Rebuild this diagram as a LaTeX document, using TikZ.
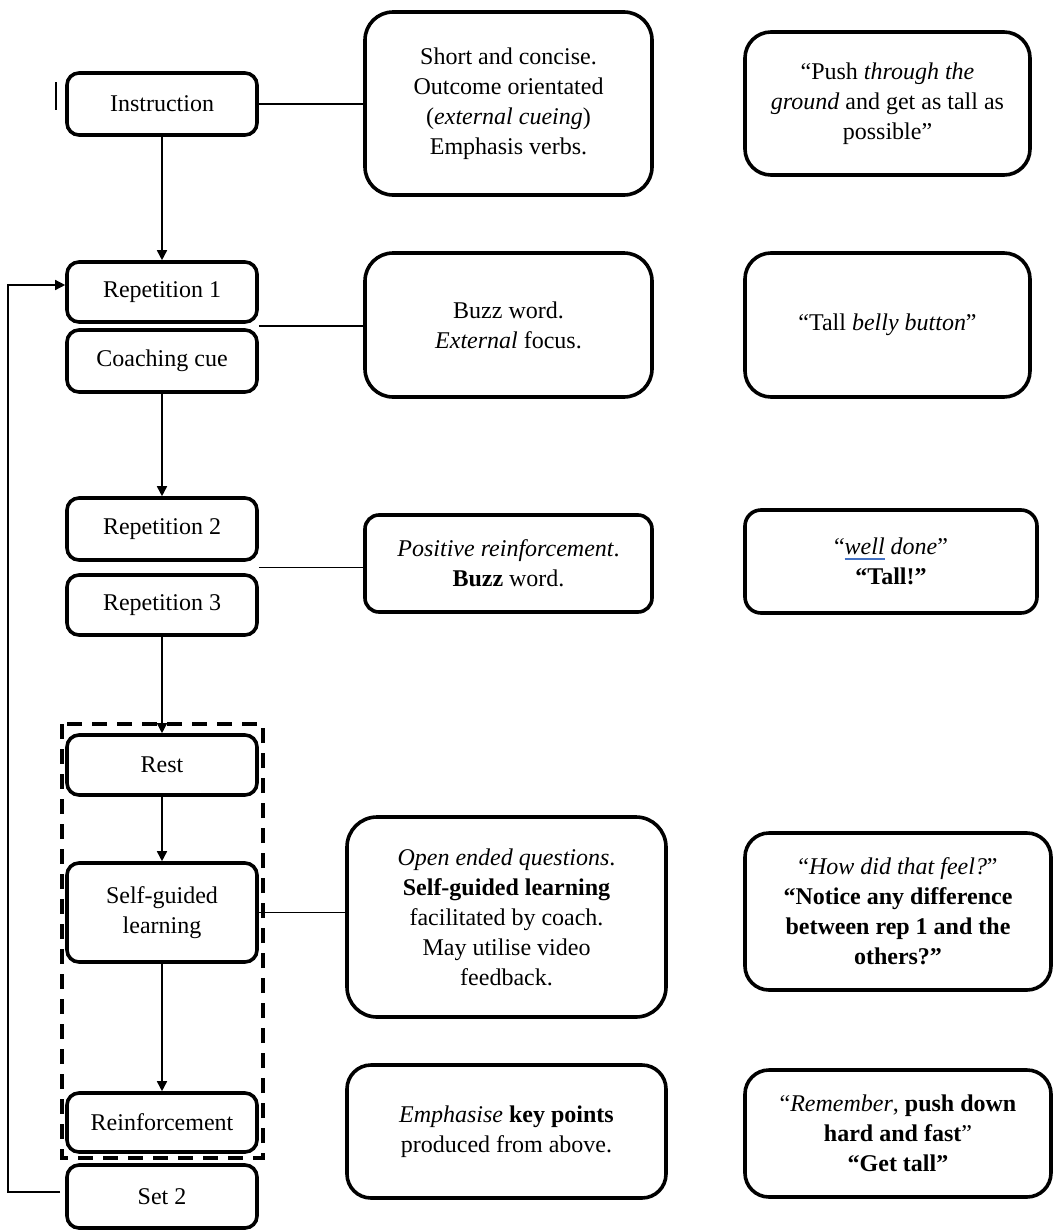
\documentclass[tikz,border=0pt]{standalone}
\usepackage{fontspec}
\setmainfont{Liberation Serif}
\usetikzlibrary{arrows.meta,calc}
\definecolor{ulblue}{RGB}{68,114,196}
% blue underline drawn beneath a word
\newcommand\blueul[1]{\sbox0{#1}\rlap{\color{ulblue}\rule[-2.6pt]{\wd0}{0.9pt}}\usebox0}
\tikzset{
  txt/.style={font=\fontsize{12}{15}\selectfont},
  stage/.style={txt, draw, line width=1.8pt, rounded corners=6pt, minimum width=95pt, align=center, inner sep=2pt},
  note/.style={txt, draw, line width=1.8pt, align=center, inner sep=2pt},
  link/.style={line width=0.8pt},
  flow/.style={line width=0.8pt, -{Triangle[length=5pt,width=5pt]}},
  grouping/.style={line width=1.8pt, dash pattern=on 7.5pt off 5pt}
}
\begin{document}
\begin{tikzpicture}[x=0.5pt, y=-0.5pt]
\useasboundingbox (0,0) rectangle (1054,1232);

% left column: session stages
\node[stage, minimum height=31pt]   (ins)   at (162,104)    {Instruction};
\node[stage, minimum height=30pt]   (rep1)  at (162,292)    {Repetition 1};
\node[stage, minimum height=31pt]   (cue)   at (162,361)    {Coaching cue};
\node[stage, minimum height=31pt]   (rep2)  at (162,529)    {Repetition 2};
\node[stage, minimum height=30pt]   (rep3)  at (162,605)    {Repetition 3};
\node[stage, minimum height=30pt]   (rest)  at (162,765)    {Rest};
\node[stage, minimum height=49.5pt] (self)  at (162,912.5)  {Self-guided\\learning};
\node[stage, minimum height=29.5pt] (reinf) at (162,1122.5) {Reinforcement};
\node[stage, minimum height=31.5pt] (set2)  at (162,1196.5) {Set 2};

% middle column: coaching approach
\node[note, rounded corners=14pt, minimum width=143.5pt, minimum height=91.5pt] (m1) at (508.5,103.5)
  {Short and concise.\\Outcome orientated\\(\textit{external cueing})\\Emphasis verbs.};
\node[note, rounded corners=14pt, minimum width=143.5pt, minimum height=72pt] (m2) at (508.5,325)
  {Buzz word.\\\textit{External} focus.};
\node[note, rounded corners=7pt, minimum width=143.5pt, minimum height=48.5pt] (m3) at (508.5,563.5)
  {\textit{Positive reinforcement}.\\\textbf{Buzz} word.};
\node[note, rounded corners=15pt, minimum width=159.5pt, minimum height=100pt] (m4) at (506.5,917)
  {\textit{Open ended questions}.\\\textbf{Self-guided learning}\\facilitated by coach.\\May utilise video\\feedback.};
\node[note, rounded corners=12pt, minimum width=159.5pt, minimum height=66.5pt] (m5) at (506.5,1131.5)
  {\textit{Emphasise} \textbf{key points}\\produced from above.};

% right column: example phrases
\node[note, rounded corners=13pt, minimum width=142.5pt, minimum height=71.5pt] (r1) at (887.5,103.5)
  {“Push \textit{through the}\\\textit{ground} and get as tall as\\possible”};
\node[note, rounded corners=13pt, minimum width=142.5pt, minimum height=72pt] (r2) at (887.5,325)
  {“Tall \textit{belly button}”};
\node[note, rounded corners=8pt, minimum width=146pt, minimum height=51.5pt] (r3) at (891,561.5)
  {“\textit{\blueul{well} done}”\\\textbf{“Tall!”}};
\node[note, rounded corners=12pt, minimum width=153pt, minimum height=78.5pt] (r4) at (898,911.5)
  {“\textit{How did that feel?}”\\\textbf{“Notice any difference}\\\textbf{between rep 1 and the}\\\textbf{others?”}};
\node[note, rounded corners=12pt, minimum width=153pt, minimum height=63.5pt] (r5) at (898,1133.5)
  {“\textit{Remember}, \textbf{push down}\\\textbf{hard and fast}”\\\textbf{“Get tall”}};

% dashed group around rest, self-guided learning and reinforcement
\draw[grouping] (62,724) rectangle (263,1158);

% small vertical mark left of the first stage
\draw[line width=0.8pt] (56,82) -- (56,110);

% links from stages to their descriptions
\coordinate (j1) at ($(rep1.south east)!0.5!(cue.north east)$);
\coordinate (j2) at ($(rep2.south east)!0.5!(rep3.north east)$);
\draw[link] (ins.east) -- (ins.east -| m1.west);
\draw[link] (j1) -- (j1 -| m2.west);
\draw[link] (j2) -- (j2 -| m3.west);
\draw[link] (self.east) -- (self.east -| m4.west);

% downward flow
\draw[flow] (ins.south) -- (rep1.north);
\draw[flow] (cue.south) -- (rep2.north);
\draw[flow] (rep3.south) -- (rest.north);
\draw[flow] (rest.south) -- (self.north);
\draw[flow] (self.south) -- (reinf.north);

% loop back from the second set to the first repetition
\coordinate (loop) at (13,0);
\draw[flow, line width=0.7pt] ([shift={(-2.5pt,2.25pt)}]set2.west) -- ([shift={(-2.5pt,2.25pt)}]set2.west -| loop)
  |- ([yshift=3.5pt]rep1.west);
\end{tikzpicture}
\end{document}
